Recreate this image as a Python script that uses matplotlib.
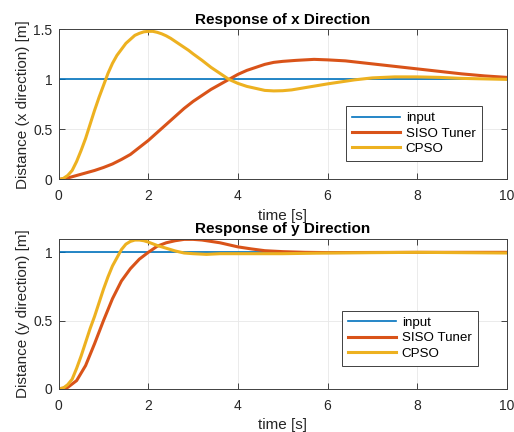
import matplotlib
matplotlib.use("Agg")
import matplotlib.pyplot as plt

plt.rcParams['font.family'] = ['Liberation Sans', 'DejaVu Sans']

# ---- data: x direction ----
t_input = [0, 10]
v_input = [1, 1]

t_x_siso = [0, 0.2, 0.4, 0.6, 0.8, 1.0, 1.2, 1.4, 1.6, 1.8, 2.0, 2.2, 2.4, 2.6, 2.8, 3.0,
            3.2, 3.4, 3.6, 3.8, 4.0, 4.2, 4.4, 4.6, 4.8, 5.0, 5.3, 5.7, 6.0, 6.4, 6.8,
            7.2, 7.6, 8.0, 8.5, 9.0, 9.5, 10]
v_x_siso = [0, 0.015, 0.04, 0.065, 0.09, 0.12, 0.155, 0.2, 0.25, 0.32, 0.39, 0.47, 0.55,
            0.63, 0.71, 0.78, 0.84, 0.90, 0.95, 1.00, 1.05, 1.09, 1.12, 1.15, 1.17, 1.18,
            1.19, 1.20, 1.195, 1.185, 1.165, 1.145, 1.125, 1.105, 1.08, 1.055, 1.035, 1.02]

t_x_cpso = [0, 0.1, 0.2, 0.3, 0.4, 0.5, 0.6, 0.7, 0.8, 0.9, 1.0, 1.1, 1.2, 1.3, 1.4, 1.5,
            1.6, 1.7, 1.8, 1.9, 2.0, 2.1, 2.2, 2.3, 2.4, 2.5, 2.6, 2.7, 2.8, 2.9, 3.0,
            3.2, 3.4, 3.6, 3.8, 4.0, 4.2, 4.4, 4.6, 4.8, 5.0, 5.2, 5.4, 5.6, 5.8, 6.0,
            6.3, 6.6, 7.0, 7.5, 8.0, 8.5, 9.0, 9.5, 10]
v_x_cpso = [0, 0.01, 0.04, 0.09, 0.18, 0.29, 0.41, 0.55, 0.69, 0.82, 0.94, 1.06, 1.16,
            1.24, 1.30, 1.36, 1.40, 1.44, 1.46, 1.475, 1.48, 1.48, 1.47, 1.455, 1.435,
            1.41, 1.38, 1.35, 1.32, 1.29, 1.255, 1.19, 1.12, 1.06, 1.00, 0.96, 0.93,
            0.91, 0.89, 0.885, 0.887, 0.895, 0.91, 0.925, 0.94, 0.955, 0.975, 0.995,
            1.015, 1.025, 1.025, 1.02, 1.01, 1.005, 1.0]

# ---- data: y direction ----
t_y_siso = [0, 0.2, 0.4, 0.6, 0.8, 1.0, 1.2, 1.4, 1.6, 1.8, 2.0, 2.2, 2.4, 2.6, 2.8, 3.0,
            3.2, 3.4, 3.6, 3.8, 4.0, 4.3, 4.6, 5.0, 5.5, 6.0, 8.0, 10]
v_y_siso = [0, 0.01, 0.06, 0.17, 0.33, 0.50, 0.66, 0.79, 0.88, 0.95, 1.0, 1.045, 1.07,
            1.085, 1.095, 1.095, 1.09, 1.08, 1.07, 1.055, 1.04, 1.025, 1.012, 1.005,
            1.0, 0.998, 1.0, 1.0]

t_y_cpso = [0, 0.1, 0.2, 0.3, 0.4, 0.5, 0.6, 0.7, 0.8, 0.9, 1.0, 1.1, 1.2, 1.3, 1.4, 1.5,
            1.6, 1.7, 1.8, 1.9, 2.0, 2.2, 2.4, 2.6, 2.8, 3.0, 3.3, 3.6, 4.0, 5.0, 6.0,
            8.0, 10]
v_y_cpso = [0, 0.005, 0.03, 0.07, 0.15, 0.24, 0.34, 0.44, 0.53, 0.63, 0.73, 0.82, 0.90,
            0.96, 1.02, 1.06, 1.08, 1.09, 1.09, 1.085, 1.075, 1.05, 1.03, 1.01, 0.995,
            0.99, 0.985, 0.99, 0.99, 0.99, 0.995, 1.0, 0.995]

labels = ['input', 'SISO Tuner', 'CPSO']
x_ticks = [0, 2, 4, 6, 8, 10]
top_yticks = [0, 0.5, 1, 1.5]
top_yticklabels = ['0', '0.5', '1', '1.5']
bot_yticks = [0, 0.5, 1]
bot_yticklabels = ['0', '0.5', '1']

c_blue = '#0072BD'
c_red = '#D95319'
c_yel = '#EDB120'
axcol = '#262626'

fig = plt.figure(figsize=(5.14, 4.32), dpi=100)
ax1 = fig.add_axes([0.1142, 0.5845, 0.8716, 0.3476])
ax2 = fig.add_axes([0.1142, 0.1000, 0.8716, 0.3475])


def style(ax, yticks, yticklabels, ylim, ylabel, title):
    ax.set_xlim(0, 10)
    ax.set_ylim(*ylim)
    ax.set_xticks(x_ticks)
    ax.set_xticklabels([str(v) for v in x_ticks])
    ax.set_yticks(yticks)
    ax.set_yticklabels(yticklabels)
    ax.grid(True, color='#e8e8e8', linewidth=0.6)
    ax.set_axisbelow(True)
    ax.tick_params(direction='in', top=True, right=True, length=4, width=0.6,
                   colors=axcol, labelsize=10, labelcolor='#262626')
    ax.tick_params(axis='x', pad=7)
    ax.tick_params(axis='y', pad=4.5)
    for s in ax.spines.values():
        s.set_color('#404040')
        s.set_linewidth(0.7)
    ax.set_xlabel('time [s]', fontsize=11, color='#262626', labelpad=4)
    ax.set_ylabel(ylabel, fontsize=11, color='#262626', labelpad=2)
    ax.set_title(title, fontsize=11, fontweight='bold', pad=4)


def legend(ax, anchor):
    leg = ax.legend(loc='lower right', bbox_to_anchor=anchor, fontsize=9.6,
                    handlelength=3.6, fancybox=False, framealpha=1, edgecolor='#404040',
                    borderaxespad=0, borderpad=0.45, labelspacing=0.22,
                    handletextpad=0.4)
    leg.get_frame().set_linewidth(0.7)
    return leg


ax1.plot(t_input, v_input, color=c_blue, lw=1.2, label=labels[0])
ax1.plot(t_x_siso, v_x_siso, color=c_red, lw=2.2, label=labels[1])
ax1.plot(t_x_cpso, v_x_cpso, color=c_yel, lw=2.2, label=labels[2])
style(ax1, top_yticks, top_yticklabels, (0, 1.5), 'Distance (x direction) [m]',
      'Response of x Direction')
legend(ax1, (0.9442, 0.124))

ax2.plot(t_input, v_input, color=c_blue, lw=1.2, label=labels[0])
ax2.plot(t_y_siso, v_y_siso, color=c_red, lw=2.2, label=labels[1])
ax2.plot(t_y_cpso, v_y_cpso, color=c_yel, lw=2.2, label=labels[2])
style(ax2, bot_yticks, bot_yticklabels, (0, 1.1), 'Distance (y direction) [m]',
      'Response of y Direction')
legend(ax2, (0.935, 0.154))

fig.savefig('out.png', dpi=100)
